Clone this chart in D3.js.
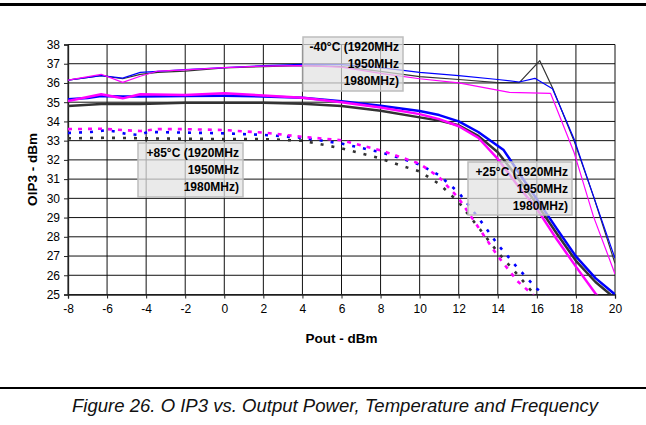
<!DOCTYPE html>
<html>
<head>
<meta charset="utf-8">
<script src="https://cdn.jsdelivr.net/npm/d3@7"></script>
<style>
  body { margin: 0; background: #fff; }
  svg { display: block; font-family: "Liberation Sans", Arial, sans-serif; }
</style>
</head>
<body>
<div id="chart"></div>
<script>
// ===========================================
// Data (Pout in dBm, OIP3 in dBm)
var xTicks = [-8, -6, -4, -2, 0, 2, 4, 6, 8, 10, 12, 14, 16, 18, 20];
var yTicks = [25, 26, 27, 28, 29, 30, 31, 32, 33, 34, 35, 36, 37, 38];

// -40°C
var poutM40_1920 = [-8, -6.3, -5.2, -4.3, -3.4, -2, 0, 2, 4, 6, 8, 10, 12, 14, 15.1, 16.15, 16.8, 17.9, 18.9, 20];
var oip3M40_1920 = [36.15, 36.38, 36.22, 36.45, 36.55, 36.62, 36.78, 36.85, 36.9, 36.85, 36.6, 36.33, 36.18, 36.02, 36.02, 37.16, 35.75, 33.0, 30.1, 26.62];
var poutM40_1950 = [-8, -6.3, -5.2, -4.3, -3.4, -2, 0, 2, 4, 6, 8, 10, 12, 14, 15.1, 15.9, 16.8, 17.9, 18.9, 20];
var oip3M40_1950 = [36.15, 36.38, 36.25, 36.55, 36.6, 36.7, 36.8, 36.9, 36.97, 36.95, 36.8, 36.55, 36.38, 36.18, 36.05, 36.24, 35.7, 33.1, 30.1, 26.88];
var poutM40_1980 = [-8, -6.3, -5.2, -4.3, -3.4, -2, 0, 2, 4, 6, 8, 10, 12, 14.6, 16.7, 17.9, 18.9, 20];
var oip3M40_1980 = [36.15, 36.45, 36.03, 36.35, 36.62, 36.68, 36.8, 36.88, 36.9, 36.82, 36.5, 36.22, 36.0, 35.51, 35.46, 32.4, 29.05, 26.07];

// +25°C
var poutP25_1920 = [-8, -6.3, -4.3, -2, 0, 2, 4, 6, 8, 10, 11, 12, 13, 14, 15, 16, 17, 18, 19, 20];
var oip3P25_1920 = [34.8, 34.9, 34.9, 34.97, 34.97, 34.97, 34.92, 34.8, 34.55, 34.21, 34.05, 33.8, 33.25, 32.4, 31.1, 29.7, 28.2, 26.75, 25.65, 24.8];
var poutP25_1950 = [-8, -7, -6.3, -5.2, -4.3, -2, 0, 2, 4, 6, 8, 10, 11, 12, 13, 14.3, 15, 16, 17, 18, 19, 20];
var oip3P25_1950 = [35.15, 35.22, 35.32, 35.29, 35.3, 35.32, 35.33, 35.3, 35.23, 35.05, 34.82, 34.54, 34.33, 34.0, 33.45, 32.51, 31.45, 29.95, 28.45, 26.98, 25.85, 25.0];
var poutP25_1980 = [-8, -6.3, -5.2, -4.3, -2, 0, 2, 4, 6, 8, 10, 11, 12, 13, 14, 15, 16, 17, 18, 19, 20];
var oip3P25_1980 = [35.06, 35.41, 35.2, 35.41, 35.38, 35.46, 35.35, 35.23, 35.0, 34.72, 34.38, 34.12, 33.75, 33.15, 32.05, 30.7, 29.45, 27.9, 26.45, 25.05, 24.0];

// +85°C
var poutP85_1920 = [-8, -6, -4, -2, 0, 2, 4, 6, 8, 9, 10, 11, 12, 13, 14, 15, 16];
var oip3P85_1920 = [33.12, 33.15, 33.12, 33.1, 33.08, 33.08, 33.0, 32.6, 32.07, 31.72, 31.4, 30.75, 29.8, 28.5, 27.2, 26.05, 24.85];
var poutP85_1950 = [-8, -6.8, -6, -5, -4.4, -3.9, -2, 0, 2, 4, 6, 8, 9, 10, 11, 12, 13, 14, 15, 16, 17];
var oip3P85_1950 = [33.4, 33.45, 33.55, 33.35, 33.3, 33.45, 33.42, 33.38, 33.3, 33.15, 32.85, 32.4, 32.1, 31.75, 31.2, 30.3, 29.0, 27.6, 26.4, 25.3, 24.5];
var poutP85_1980 = [-8, -6.3, -5.2, -4.3, -3.4, -2, 0, 2, 4, 6, 8, 9, 10, 11, 12, 13, 14, 15, 16];
var oip3P85_1980 = [33.6, 33.62, 33.55, 33.5, 33.6, 33.6, 33.55, 33.42, 33.2, 33.02, 32.5, 32.15, 31.8, 31.1, 30.0, 28.5, 27.0, 25.7, 24.8];

var legendM40 = ["-40°C (1920MHz", "1950MHz", "1980MHz)"];
var legendP25 = ["+25°C (1920MHz", "1950MHz", "1980MHz)"];
var legendP85 = ["+85°C (1920MHz", "1950MHz", "1980MHz)"];

// ===========================================
// Set up SVG element & chart area
var svgWidth = 646;
var svgHeight = 425;

var plot = {left: 68, right: 615, top: 44.5, bottom: 294.5};

var svg = d3.select("#chart")
    .append("svg")
    .attr("width", svgWidth)
    .attr("height", svgHeight);

var xscale = d3.scaleLinear().domain([-8, 20]).range([plot.left, plot.right]);
var yscale = d3.scaleLinear().domain([25, 38]).range([plot.bottom, plot.top]);

// page rules
svg.append("rect").attr("x", 0).attr("y", 3).attr("width", svgWidth).attr("height", 3).attr("fill", "#000");
svg.append("rect").attr("x", 0).attr("y", 387).attr("width", svgWidth).attr("height", 2).attr("fill", "#000");

// grid
svg.append("g").selectAll("line")
    .data(yTicks).enter().append("line")
    .attr("x1", plot.left).attr("x2", plot.right)
    .attr("y1", d => yscale(d)).attr("y2", d => yscale(d))
    .attr("stroke", "#111").attr("stroke-width", 1);

svg.append("g").selectAll("line")
    .data(xTicks).enter().append("line")
    .attr("x1", d => xscale(d)).attr("x2", d => xscale(d))
    .attr("y1", plot.top).attr("y2", plot.bottom)
    .attr("stroke", "#111").attr("stroke-width", 1);

// axes (plain hyphen for negatives, as in the figure)
var b_axis = d3.axisBottom(xscale).tickValues(xTicks).tickSize(4).tickPadding(6).tickFormat(d => String(d));
var l_axis = d3.axisLeft(yscale).tickValues(yTicks).tickSize(4).tickPadding(4).tickFormat(d => String(d));

var gx = svg.append("g")
    .attr("transform", `translate(0, ${plot.bottom})`)
    .call(b_axis);
var gy = svg.append("g")
    .attr("transform", `translate(${plot.left}, 0)`)
    .call(l_axis);

[gx, gy].forEach(function(g){
    g.select(".domain").attr("stroke", "#222").attr("stroke-width", 1.3);
    g.selectAll(".tick line").attr("stroke", "#222");
    g.selectAll(".tick text")
        .attr("font-family", "Liberation Sans, Arial, sans-serif")
        .attr("font-size", "12px")
        .attr("fill", "#000");
});

// series
svg.append("defs").append("clipPath").attr("id", "plotclip")
    .append("rect")
    .attr("x", plot.left).attr("y", plot.top)
    .attr("width", plot.right - plot.left).attr("height", plot.bottom - plot.top);

var series = [
    {x: poutP85_1920, y: oip3P85_1920, color: "#333333", width: 2.6, dash: "3,8"},
    {x: poutP85_1950, y: oip3P85_1950, color: "#0000ff", width: 2.6, dash: "3,8"},
    {x: poutP85_1980, y: oip3P85_1980, color: "#ff00ff", width: 2.6, dash: "4,6"},
    {x: poutP25_1920, y: oip3P25_1920, color: "#333333", width: 2.5, dash: null},
    {x: poutP25_1950, y: oip3P25_1950, color: "#0000ff", width: 2.5, dash: null},
    {x: poutP25_1980, y: oip3P25_1980, color: "#ff00ff", width: 2.5, dash: null},
    {x: poutM40_1920, y: oip3M40_1920, color: "#333333", width: 1.2, dash: null},
    {x: poutM40_1950, y: oip3M40_1950, color: "#0000ff", width: 1.2, dash: null},
    {x: poutM40_1980, y: oip3M40_1980, color: "#ff00ff", width: 1.2, dash: null}
];

var line = d3.line()
    .x(d => xscale(d[0]))
    .y(d => yscale(d[1]));

var lineGroup = svg.append("g").attr("clip-path", "url(#plotclip)");
series.forEach(function(s){
    lineGroup.append("path")
        .datum(s.x.map((v, i) => [v, s.y[i]]))
        .attr("d", line)
        .attr("fill", "none")
        .attr("stroke", s.color)
        .attr("stroke-width", s.width)
        .attr("stroke-dasharray", s.dash)
        .attr("stroke-linejoin", "round");
});

// legend boxes (text labels on the chart)
function labelBox(lines, x0, y0, w, h) {
    var g = svg.append("g");
    g.append("rect")
        .attr("x", x0).attr("y", y0).attr("width", w).attr("height", h)
        .attr("fill", "#e2e2e2").attr("fill-opacity", 0.72)
        .attr("stroke", "#bdbdbd").attr("stroke-width", 1.5);
    g.selectAll("text")
        .data(lines).enter().append("text")
        .attr("x", x0 + w - 4)
        .attr("y", (d, i) => y0 + 14 + i * 16.8)
        .attr("text-anchor", "end")
        .attr("font-size", "12px")
        .attr("font-weight", "bold")
        .attr("fill", "#000")
        .text(d => d);
}
labelBox(legendM40, 303, 37, 100, 54);
labelBox(legendP85, 138, 143, 105, 54);
labelBox(legendP25, 468, 162, 104, 53);

// axis titles
svg.append("text")
    .attr("x", (plot.left + plot.right) / 2)
    .attr("y", 343)
    .attr("text-anchor", "middle")
    .attr("font-size", "13.5px")
    .attr("font-weight", "bold")
    .text("Pout - dBm");

svg.append("text")
    .attr("transform", `translate(37, ${(plot.top + plot.bottom) / 2}) rotate(-90)`)
    .attr("text-anchor", "middle")
    .attr("font-size", "13.5px")
    .attr("font-weight", "bold")
    .text("OIP3 - dBm");

// caption
svg.append("text")
    .attr("x", 72)
    .attr("y", 412)
    .attr("font-size", "18px")
    .attr("font-style", "italic")
    .attr("textLength", 526)
    .attr("lengthAdjust", "spacingAndGlyphs")
    .attr("fill", "#111")
    .text("Figure 26. O IP3 vs. Output Power, Temperature and Frequency");
</script>
</body>
</html>
